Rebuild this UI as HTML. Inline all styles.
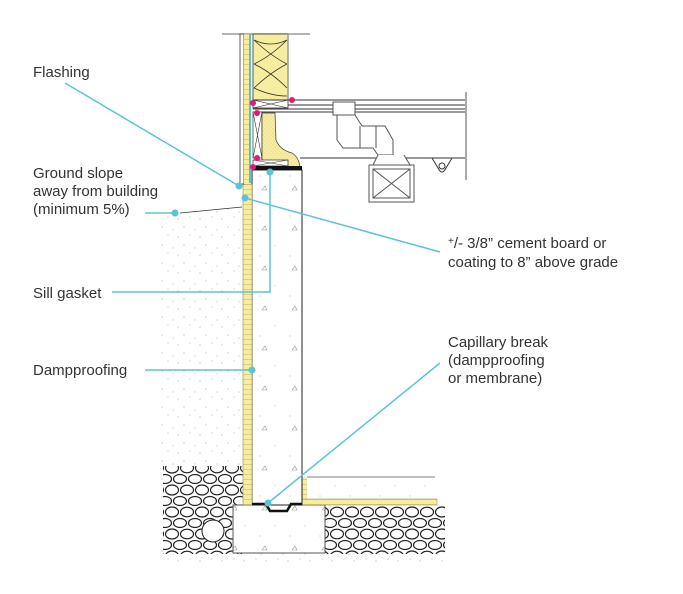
<!DOCTYPE html>
<html><head><meta charset="utf-8"><style>
html,body{margin:0;padding:0;background:#fff;}
svg{display:block;}
text{font-family:"Liberation Sans",Arial,sans-serif;font-size:15px;fill:#333;}
</style></head><body>
<svg width="683" height="594" viewBox="0 0 683 594" xmlns="http://www.w3.org/2000/svg">
<defs>
<pattern id="soil" width="22" height="18" patternUnits="userSpaceOnUse">
<rect width="22" height="18" fill="#fff"/>
<circle cx="2" cy="3" r="0.5" fill="#888"/><circle cx="14" cy="1" r="0.5" fill="#999"/>
<circle cx="8" cy="11" r="0.5" fill="#888"/><circle cx="19" cy="14" r="0.5" fill="#999"/>
</pattern>
<pattern id="conc" width="30" height="40" patternUnits="userSpaceOnUse">
<rect width="30" height="40" fill="#fff"/>
<circle cx="5" cy="6" r="0.5" fill="#999"/><circle cx="20" cy="16" r="0.5" fill="#999"/>
<path d="M22 30 l3 -4 l2 4z" fill="none" stroke="#999" stroke-width="0.6"/>
</pattern>
<pattern id="grav" width="30" height="22" patternUnits="userSpaceOnUse">
<rect width="30" height="22" fill="#fff"/>
<ellipse cx="7" cy="6" rx="6.5" ry="4.8" fill="#fff" stroke="#222" stroke-width="1.2"/>
<ellipse cx="22" cy="6" rx="6.5" ry="5" fill="#fff" stroke="#222" stroke-width="1.2"/>
<ellipse cx="15" cy="17" rx="6.5" ry="4.5" fill="#fff" stroke="#222" stroke-width="1.2"/>
<ellipse cx="0" cy="17" rx="6.5" ry="4.5" fill="#fff" stroke="#222" stroke-width="1.2"/>
<ellipse cx="30" cy="17" rx="6.5" ry="4.5" fill="#fff" stroke="#222" stroke-width="1.2"/>
</pattern>
<pattern id="yel" width="9" height="5" patternUnits="userSpaceOnUse">
<rect width="9" height="5" fill="#f7eda0"/><line x1="0" y1="4.5" x2="9" y2="4.5" stroke="#c9b870" stroke-width="0.6"/>
</pattern>
<pattern id="foam" width="4" height="4" patternUnits="userSpaceOnUse">
<rect width="4" height="4" fill="#f7eda0"/><circle cx="1" cy="1" r="0.4" fill="#b9a860"/><circle cx="3" cy="3" r="0.4" fill="#b9a860"/>
</pattern>
</defs>

<path d="M160 214 L242 206 L242 560 L160 560 Z" fill="url(#soil)"/>
<rect x="160" y="553" width="290" height="10" fill="url(#soil)"/>
<line x1="180" y1="213" x2="242" y2="207" stroke="#333" stroke-width="0.8"/>
<rect x="163" y="466" width="80" height="88" fill="url(#grav)"/>
<circle cx="213" cy="531" r="11" fill="#fff" stroke="#222" stroke-width="1"/>
<rect x="325" y="506" width="120" height="48" fill="url(#grav)"/>
<rect x="233" y="505" width="92" height="48" fill="url(#conc)" stroke="#555" stroke-width="1"/>
<rect x="307" y="477" width="128" height="23" fill="url(#conc)"/>
<line x1="307" y1="477" x2="435" y2="477" stroke="#999" stroke-width="1.2"/>
<rect x="302" y="477" width="5" height="28" fill="url(#yel)"/>
<rect x="302" y="499" width="135" height="6" fill="url(#yel)" stroke="#9a8a40" stroke-width="0.5"/>
<rect x="252" y="170" width="50" height="335" fill="url(#conc)" stroke="#222" stroke-width="1"/>
<rect x="243" y="184" width="9" height="321" fill="url(#yel)" stroke="#9a8a40" stroke-width="0.6"/>
<path d="M252 504 L266 504 L270 511 L287 511 L291 504 L302 504" fill="none" stroke="#111" stroke-width="2.5"/>
<line x1="222" y1="34" x2="310" y2="34" stroke="#888" stroke-width="1.2"/>
<rect x="240" y="34" width="4" height="150" fill="#fff" stroke="#333" stroke-width="0.8"/>
<rect x="244" y="34" width="6" height="150" fill="url(#yel)"/>
<line x1="250" y1="34" x2="250" y2="183" stroke="#2ab0c8" stroke-width="1.5"/>
<rect x="253" y="34" width="35" height="66" fill="#f7eda0" stroke="#333" stroke-width="0.8"/>
<path d="M254 40 Q271 48 287 40 M254 40 Q271 56 287 64 M254 64 Q271 56 287 40 M254 64 Q271 72 287 88 M254 88 Q271 72 287 64 M254 88 Q271 96 287 96" fill="none" stroke="#333" stroke-width="0.8"/>
<line x1="288" y1="34" x2="288" y2="100" stroke="#999" stroke-width="1.5"/>
<rect x="253" y="100" width="35" height="8" fill="#fff" stroke="#333" stroke-width="0.8"/>
<path d="M253 100 L288 108 M253 108 L288 100" stroke="#333" stroke-width="0.6"/>
<line x1="253" y1="100" x2="465" y2="100" stroke="#333"/>
<line x1="288" y1="105" x2="465" y2="105" stroke="#333"/>
<line x1="253" y1="109" x2="465" y2="109" stroke="#333"/>
<line x1="253" y1="112" x2="465" y2="112" stroke="#333"/>
<line x1="300" y1="158" x2="465" y2="158" stroke="#333"/>
<line x1="466" y1="92" x2="466" y2="180" stroke="#555"/>
<rect x="253" y="112" width="9" height="46" fill="#fff" stroke="#333" stroke-width="0.7"/>
<path d="M253 112 L262 158 M262 112 L253 158" stroke="#333" stroke-width="0.6"/>
<path d="M262 113 L275 113 L276 140 Q280 150 292 153 Q300 158 300 170 L262 170 Z" fill="url(#foam)" stroke="#333" stroke-width="0.7"/>
<rect x="253" y="160" width="35" height="6" fill="#fff" stroke="#333" stroke-width="0.7"/>
<path d="M253 160 L288 166 M253 166 L288 160" stroke="#333" stroke-width="0.5"/>
<rect x="253" y="166" width="49" height="4" fill="#111"/>
<rect x="333" y="102" width="22" height="13" fill="#fff" stroke="#555"/>
<path d="M337 115 L355 115 L362 126 L385 126 L393 140 L393 155 L378 155 L373 148 L343 148 L337 140 Z" fill="#fff" stroke="#555"/>
<line x1="360" y1="126" x2="360" y2="148" stroke="#555"/><line x1="376" y1="126" x2="376" y2="148" stroke="#555"/>
<path d="M378 155 L373 165 L410 165 L404 155" fill="#fff" stroke="#555"/>
<rect x="369" y="165" width="45" height="37" fill="#fff" stroke="#555"/>
<rect x="373" y="169" width="37" height="29" fill="#fff" stroke="#555"/>
<path d="M373 169 L410 198 M410 169 L373 198" stroke="#555"/>
<path d="M432 158 L438 168 Q442 176 446 168 L452 158" fill="none" stroke="#333"/>
<circle cx="442" cy="166" r="3" fill="none" stroke="#333"/>
<g fill="#e0197a"><circle cx="253" cy="103" r="3"/><circle cx="292" cy="100" r="3"/><circle cx="257" cy="113" r="3"/><circle cx="257" cy="158" r="3"/><circle cx="253" cy="167" r="3"/></g>
<g stroke="#5bc3d8" stroke-width="1.5" fill="none">
<line x1="65" y1="83" x2="239" y2="186"/>
<line x1="145" y1="213" x2="175" y2="213"/>
<line x1="245" y1="198" x2="440" y2="252"/>
<polyline points="112,292 270,292 270,172"/>
<line x1="145" y1="370" x2="252" y2="370"/>
<line x1="268" y1="503" x2="440" y2="363"/>
</g>
<g fill="#5bc3d8"><circle cx="239" cy="186" r="3.5"/><circle cx="175" cy="213" r="3.5"/><circle cx="245" cy="198" r="3.5"/><circle cx="270" cy="172" r="3.5"/><circle cx="252" cy="370" r="3.5"/><circle cx="268" cy="503" r="3.5"/></g>
<text x="33" y="77">Flashing</text>
<text x="33" y="178">Ground slope</text>
<text x="33" y="196">away from building</text>
<text x="33" y="214">(minimum 5%)</text>
<text x="33" y="298">Sill gasket</text>
<text x="33" y="375">Dampproofing</text>
<text x="448" y="248"><tspan font-size="10" dy="-4">+</tspan><tspan dy="4">/- 3/8” cement board or</tspan></text>
<text x="448" y="267">coating to 8” above grade</text>
<text x="448" y="347">Capillary break</text>
<text x="448" y="365">(dampproofing</text>
<text x="448" y="383">or membrane)</text>
</svg>
</body></html>
